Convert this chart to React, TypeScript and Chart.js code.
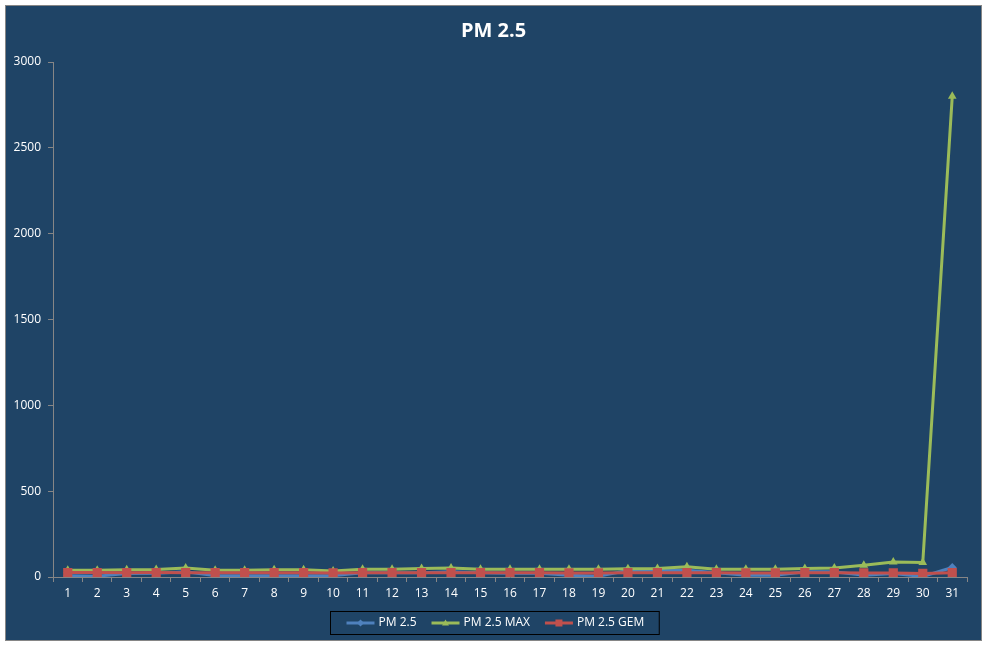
import { useEffect, useRef } from "react"
import { Chart, registerables } from "chart.js"

Chart.register(...registerables)

const days = ["1", "2", "3", "4", "5", "6", "7", "8", "9", "10", "11", "12", "13", "14", "15", "16",
  "17", "18", "19", "20", "21", "22", "23", "24", "25", "26", "27", "28", "29", "30", "31"]

const pm25 = [8, 5, 20, 22, 30, 8, 8, 8, 8, 8, 25, 25, 25, 30, 25, 22,
  22, 10, 5, 38, 38, 40, 25, 10, 10, 30, 30, 10, 20, 3, 55]

const pm25Max = [40, 40, 42, 44, 52, 40, 40, 42, 42, 35, 45, 45, 50, 52, 45, 45,
  45, 45, 45, 48, 50, 60, 45, 45, 45, 50, 52, 68, 88, 85, 2800]

const pm25Gem = [26, 26, 25, 26, 25, 25, 25, 25, 25, 24, 25, 25, 25, 25, 25, 25,
  25, 24, 24, 25, 25, 25, 25, 24, 24, 25, 25, 24, 24, 21, 25]

const yTicks = [0, 500, 1000, 1500, 2000, 2500, 3000]

const chartTitle = "PM 2.5"
const font = "'Open Sans', sans-serif"
const axisGray = "#868686"
const bg = "#1F4466"

function drawMarker(ctx: CanvasRenderingContext2D, style: string, x: number, y: number, r: number) {
  ctx.beginPath()
  if (style === "rectRot") {
    ctx.moveTo(x, y - r)
    ctx.lineTo(x + r, y)
    ctx.lineTo(x, y + r)
    ctx.lineTo(x - r, y)
  } else if (style === "triangle") {
    ctx.moveTo(x, y - r)
    ctx.lineTo(x + r, y + r * 0.7)
    ctx.lineTo(x - r, y + r * 0.7)
  } else {
    ctx.rect(x - r, y - r, 2 * r, 2 * r)
  }
  ctx.closePath()
  ctx.fill()
}

// title and the boxed legend in the style of the original
const decorPlugin = {
  id: "decor",
  afterDraw(chart: any) {
    const { ctx, width, height } = chart
    ctx.save()
    ctx.fillStyle = "#ffffff"
    ctx.font = `bold 20px ${font}`
    ctx.textAlign = "center"
    ctx.textBaseline = "middle"
    ctx.fillText(chartTitle, width / 2, 25)

    ctx.font = `12px ${font}`
    const sets = chart.data.datasets
    const lineLen = 28
    const widths = sets.map((d: any) => lineLen + 4 + ctx.measureText(d.label).width)
    const gap = 15
    const padL = 16
    const padR = 15
    const total = padL + widths.reduce((a: number, b: number) => a + b, 0) + gap * (widths.length - 1) + padR
    const left = Math.round(width / 2 - total / 2) + 1.5
    const top = height - 28.5
    const h = 23
    ctx.strokeStyle = "#000000"
    ctx.lineWidth = 1
    ctx.strokeRect(left, top, total, h)

    let x = left + padL
    const cy = top + h / 2
    sets.forEach((d: any, i: number) => {
      ctx.strokeStyle = d.borderColor
      ctx.fillStyle = d.borderColor
      ctx.lineWidth = 3
      ctx.beginPath()
      ctx.moveTo(x, cy)
      ctx.lineTo(x + lineLen, cy)
      ctx.stroke()
      drawMarker(ctx, d.pointStyle, x + lineLen / 2, cy, 3.5)
      ctx.fillStyle = "#ffffff"
      ctx.textAlign = "left"
      ctx.fillText(d.label, x + lineLen + 4, cy)
      x += widths[i] + gap
    })
    ctx.restore()
  },
}

export default function App() {
  const canvasRef = useRef<HTMLCanvasElement>(null)
  const chartRef = useRef<Chart | null>(null)

  useEffect(() => {
    if (!canvasRef.current) return
    if (chartRef.current) chartRef.current.destroy()

    chartRef.current = new Chart(canvasRef.current, {
      type: "line",
      data: {
        labels: days,
        datasets: [
          {
            label: "PM 2.5",
            data: pm25,
            borderColor: "#4F81BD",
            backgroundColor: "#4F81BD",
            borderWidth: 3,
            pointStyle: "rectRot",
            pointRadius: 4.5,
            pointBorderWidth: 0,
            order: 3,
          },
          {
            label: "PM 2.5 MAX",
            data: pm25Max,
            borderColor: "#9BBB59",
            backgroundColor: "#9BBB59",
            borderWidth: 3,
            pointStyle: "triangle",
            pointRadius: 5,
            pointBorderWidth: 0,
            order: 2,
          },
          {
            label: "PM 2.5 GEM",
            data: pm25Gem,
            borderColor: "#C0504D",
            backgroundColor: "#C0504D",
            borderWidth: 3,
            pointStyle: "rect",
            pointRadius: 6.5,
            pointBorderWidth: 0,
            order: 1,
          },
        ],
      },
      options: {
        responsive: false,
        animation: false,
        layout: { padding: { top: 56, right: 14, bottom: 29, left: 0 } },
        scales: {
          x: {
            offset: true,
            grid: { drawOnChartArea: false, tickLength: 5, color: axisGray, offset: true },
            border: { color: axisGray },
            ticks: { color: "#ffffff", font: { family: font, size: 12 }, padding: 4, maxRotation: 0, autoSkip: false },
            afterFit: (s: any) => { s.height = 34 },
          },
          y: {
            min: 0,
            max: 3000,
            afterBuildTicks: (s: any) => { s.ticks = yTicks.map((v) => ({ value: v })) },
            grid: { drawOnChartArea: false, tickLength: 5, color: axisGray },
            border: { color: axisGray },
            ticks: {
              color: "#ffffff",
              font: { family: font, size: 12 },
              padding: 7,
              callback: (v: any) => String(v),
            },
            afterFit: (s: any) => { s.width = 47 },
          },
        },
        plugins: {
          legend: { display: false },
          title: { display: false },
          tooltip: { enabled: false },
        },
      },
      plugins: [decorPlugin],
    })

    return () => {
      if (chartRef.current) {
        chartRef.current.destroy()
        chartRef.current = null
      }
    }
  }, [])

  return (
    <div
      style={{
        position: "fixed",
        left: 5,
        top: 5,
        width: 975,
        height: 634,
        border: `1px solid ${axisGray}`,
        background: bg,
      }}
    >
      <canvas ref={canvasRef} width={975} height={634} style={{ display: "block" }}></canvas>
    </div>
  )
}
